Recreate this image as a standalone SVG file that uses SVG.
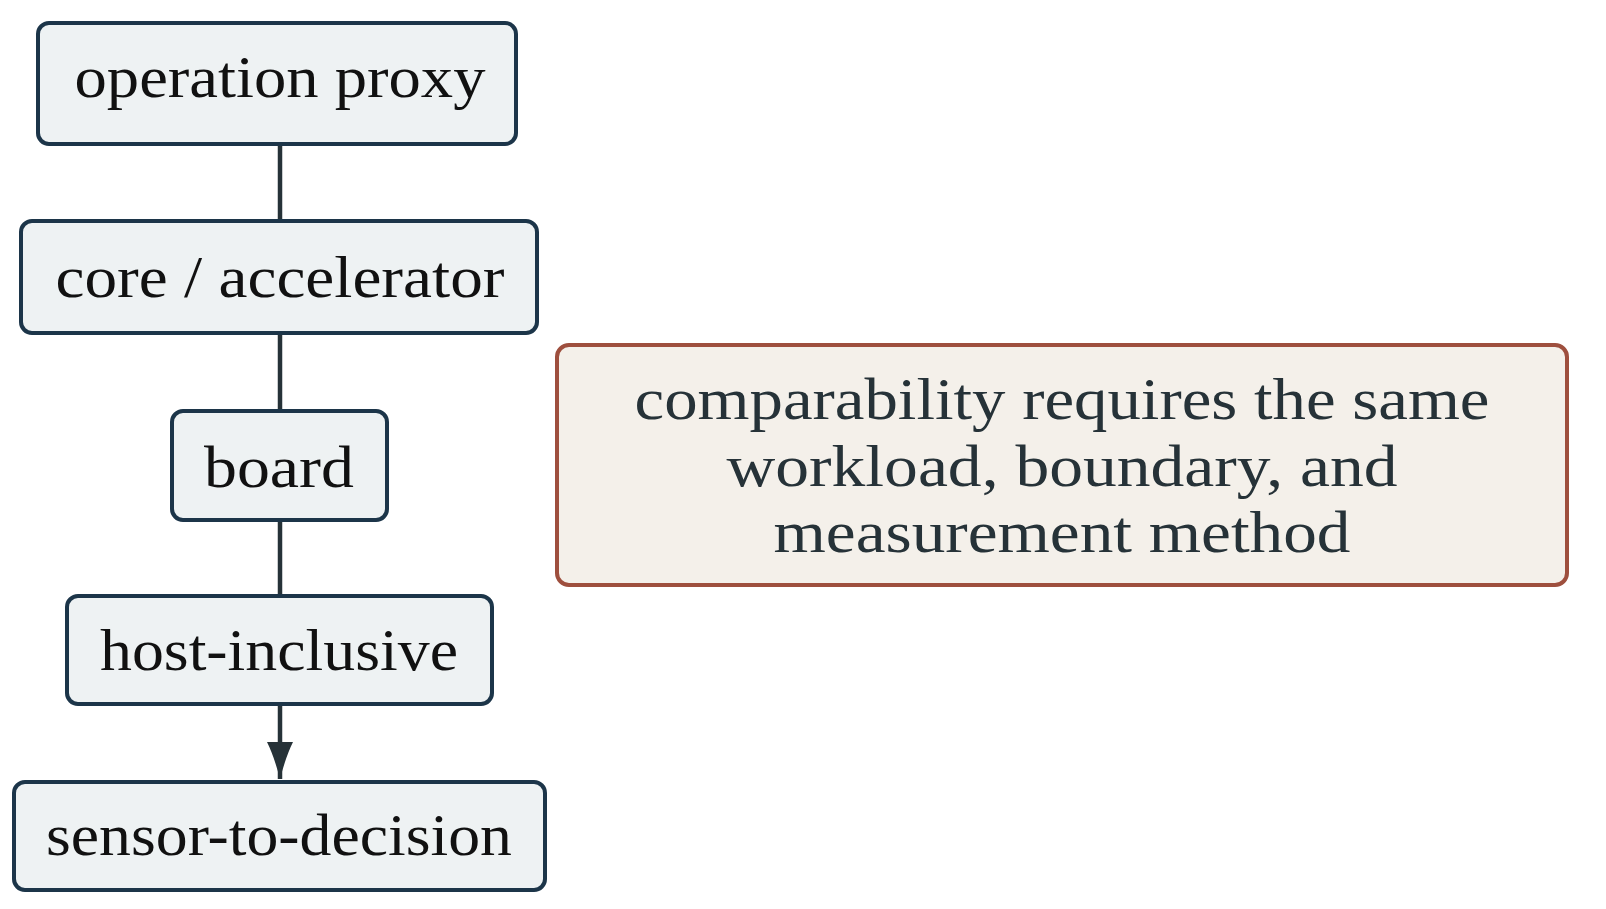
<svg xmlns="http://www.w3.org/2000/svg" width="1606" height="909" viewBox="0 0 1606 909">
  <style>
    .node rect { fill: #eef2f3; stroke: #1c3549; stroke-width: 4; }
    .node text { font-family: "Liberation Serif", "DejaVu Serif", serif; font-size: 60px; fill: #111111; text-anchor: middle; }
    .note rect { fill: #f4f0ea; stroke: #9e4f3e; stroke-width: 4; }
    .note text { font-family: "Liberation Serif", "DejaVu Serif", serif; font-size: 60px; fill: #263238; text-anchor: middle; }
    .conn line { stroke: #263238; stroke-width: 4.5; fill: none; }
  </style>
  <defs>
    <marker id="arrow" markerUnits="userSpaceOnUse" markerWidth="38" markerHeight="28" viewBox="0 0 38 28" refX="37" refY="14" orient="auto">
      <path d="M0,1 Q14,8 37,14 Q14,20 0,27 Z" fill="#263238"/>
    </marker>
  </defs>
  <rect width="1606" height="909" fill="#ffffff"/>

  <g id="connectors" class="conn">
    <line x1="280" y1="146" x2="280" y2="219"/>
    <line x1="280" y1="335" x2="280" y2="409"/>
    <line x1="280" y1="522" x2="280" y2="594"/>
    <line x1="280" y1="706" x2="280" y2="779" marker-end="url(#arrow)"/>
  </g>

  <g id="node-operation-proxy" class="node">
    <rect x="38" y="23" width="478" height="121" rx="11"/>
    <text x="280" y="97" textLength="411" lengthAdjust="spacingAndGlyphs">operation proxy</text>
  </g>
  <g id="node-core-accelerator" class="node">
    <rect x="21" y="221" width="516" height="112" rx="11"/>
    <text x="280" y="297" textLength="449" lengthAdjust="spacingAndGlyphs">core / accelerator</text>
  </g>
  <g id="node-board" class="node">
    <rect x="172" y="411" width="215" height="109" rx="11"/>
    <text x="279" y="487" textLength="150" lengthAdjust="spacingAndGlyphs">board</text>
  </g>
  <g id="node-host-inclusive" class="node">
    <rect x="67" y="596" width="425" height="108" rx="11"/>
    <text x="279" y="670" textLength="358" lengthAdjust="spacingAndGlyphs">host-inclusive</text>
  </g>
  <g id="node-sensor-to-decision" class="node">
    <rect x="14" y="782" width="531" height="108" rx="11"/>
    <text x="279" y="855" textLength="466" lengthAdjust="spacingAndGlyphs">sensor-to-decision</text>
  </g>

  <g id="note" class="note">
    <rect x="557" y="345" width="1010" height="240" rx="12"/>
    <text x="1062" y="419" textLength="855" lengthAdjust="spacingAndGlyphs">comparability requires the same</text>
    <text x="1062" y="486" textLength="671" lengthAdjust="spacingAndGlyphs">workload, boundary, and</text>
    <text x="1062" y="552" textLength="577" lengthAdjust="spacingAndGlyphs">measurement method</text>
  </g>
</svg>
